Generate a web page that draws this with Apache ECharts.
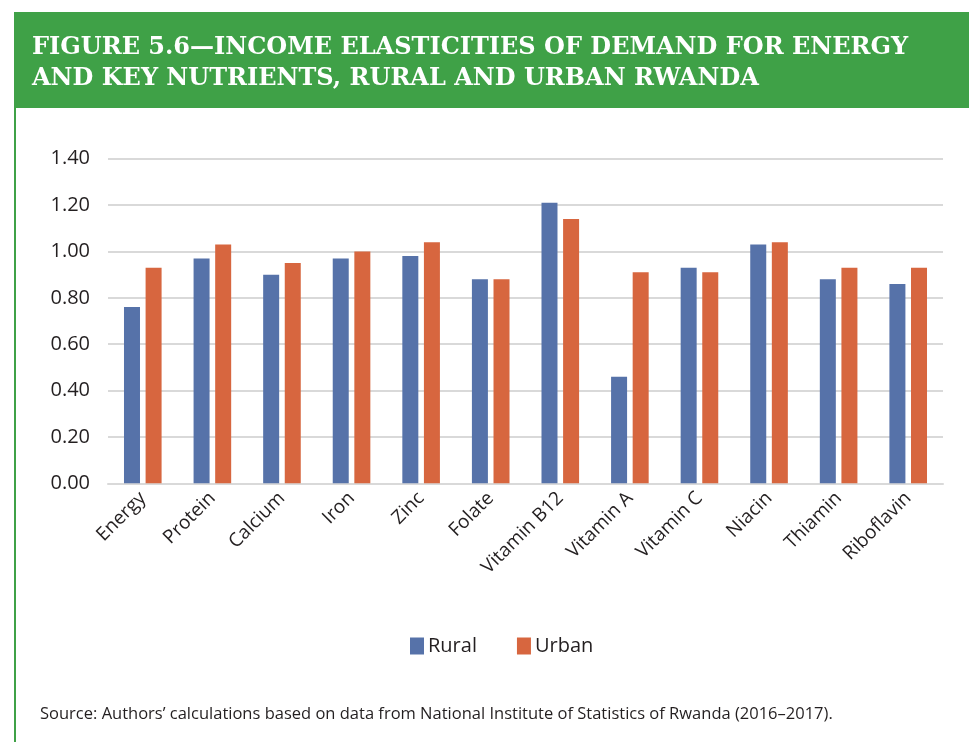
<!DOCTYPE html>
<html>
<head>
<meta charset="utf-8">
<script src="https://cdn.jsdelivr.net/npm/echarts@6/dist/echarts.min.js"></script>
<style>
  html, body { margin: 0; padding: 0; background: #fff; }
  #main { width: 969px; height: 742px; }
</style>
</head>
<body>
<div id="main"></div>
<script>
// nutrients on the x axis
var categories = ['Energy', 'Protein', 'Calcium', 'Iron', 'Zinc', 'Folate',
    'Vitamin B12', 'Vitamin A', 'Vitamin C', 'Niacin', 'Thiamin', 'Riboflavin'];
// income elasticities
var rural = [0.76, 0.97, 0.90, 0.97, 0.98, 0.88, 1.21, 0.46, 0.93, 1.03, 0.88, 0.86];
var urban = [0.93, 1.03, 0.95, 1.00, 1.04, 0.88, 1.14, 0.91, 0.91, 1.04, 0.93, 0.93];
var yTicks = [0, 0.2, 0.4, 0.6, 0.8, 1.0, 1.2, 1.4];

var green = '#3fa147';
var textColor = '#231f20';
var sans = '"Open Sans", "Noto Sans", sans-serif';

var chart = echarts.init(document.getElementById('main'));
var option = {
    backgroundColor: '#fff',
    animation: false,
    title: {
        text: 'FIGURE 5.6\u2014INCOME ELASTICITIES OF DEMAND FOR ENERGY\nAND KEY NUTRIENTS, RURAL AND URBAN RWANDA',
        left: 27,
        top: 27,
        z: 10,
        textStyle: {
            color: '#fff',
            fontFamily: '"DejaVu Serif", "Liberation Serif", serif',
            fontWeight: 'bold',
            fontSize: 24,
            lineHeight: 31
        }
    },
    graphic: [
        { type: 'rect', z: 0, shape: { x: 15, y: 12, width: 954, height: 96 }, style: { fill: green } },
        { type: 'rect', z: 0, shape: { x: 14, y: 12, width: 2, height: 730 }, style: { fill: green } },
        {
            type: 'text', z: 10, left: 40, top: 706,
            style: {
                text: 'Source: Authors\u2019 calculations based on data from National Institute of Statistics of Rwanda (2016\u20132017).',
                fill: textColor, font: '16.5px ' + sans
            }
        }
    ],
    legend: {
        left: 405,
        top: 631,
        itemWidth: 14,
        itemHeight: 17,
        itemGap: 40,
        icon: 'rect',
        textStyle: { color: textColor, fontSize: 20, fontFamily: sans, padding: [0, 0, 0, -1] },
        data: ['Rural', 'Urban']
    },
    grid: { left: 108, right: 26, top: 158.7, bottom: 258.7 },
    xAxis: {
        type: 'category',
        data: categories,
        axisLine: { lineStyle: { color: '#d9d9d9', width: 2 } },
        axisTick: { show: false },
        axisLabel: { rotate: 45, color: textColor, fontSize: 19, fontFamily: sans, margin: 12, interval: 0 }
    },
    yAxis: {
        type: 'value',
        min: yTicks[0],
        max: yTicks[yTicks.length - 1],
        interval: 0.2,
        axisLine: { show: false },
        axisTick: { show: false },
        splitLine: { lineStyle: { color: '#d9d9d9', width: 2 } },
        axisLabel: {
            color: textColor, fontSize: 20, fontFamily: sans, margin: 18,
            formatter: function (v) { return v.toFixed(2); }
        }
    },
    series: [
        { name: 'Rural', type: 'bar', data: rural, barWidth: 16, barGap: '35%', itemStyle: { color: '#5672a9' } },
        { name: 'Urban', type: 'bar', data: urban, barWidth: 16, itemStyle: { color: '#d7663f' } }
    ]
};
chart.setOption(option);
</script>
</body>
</html>
